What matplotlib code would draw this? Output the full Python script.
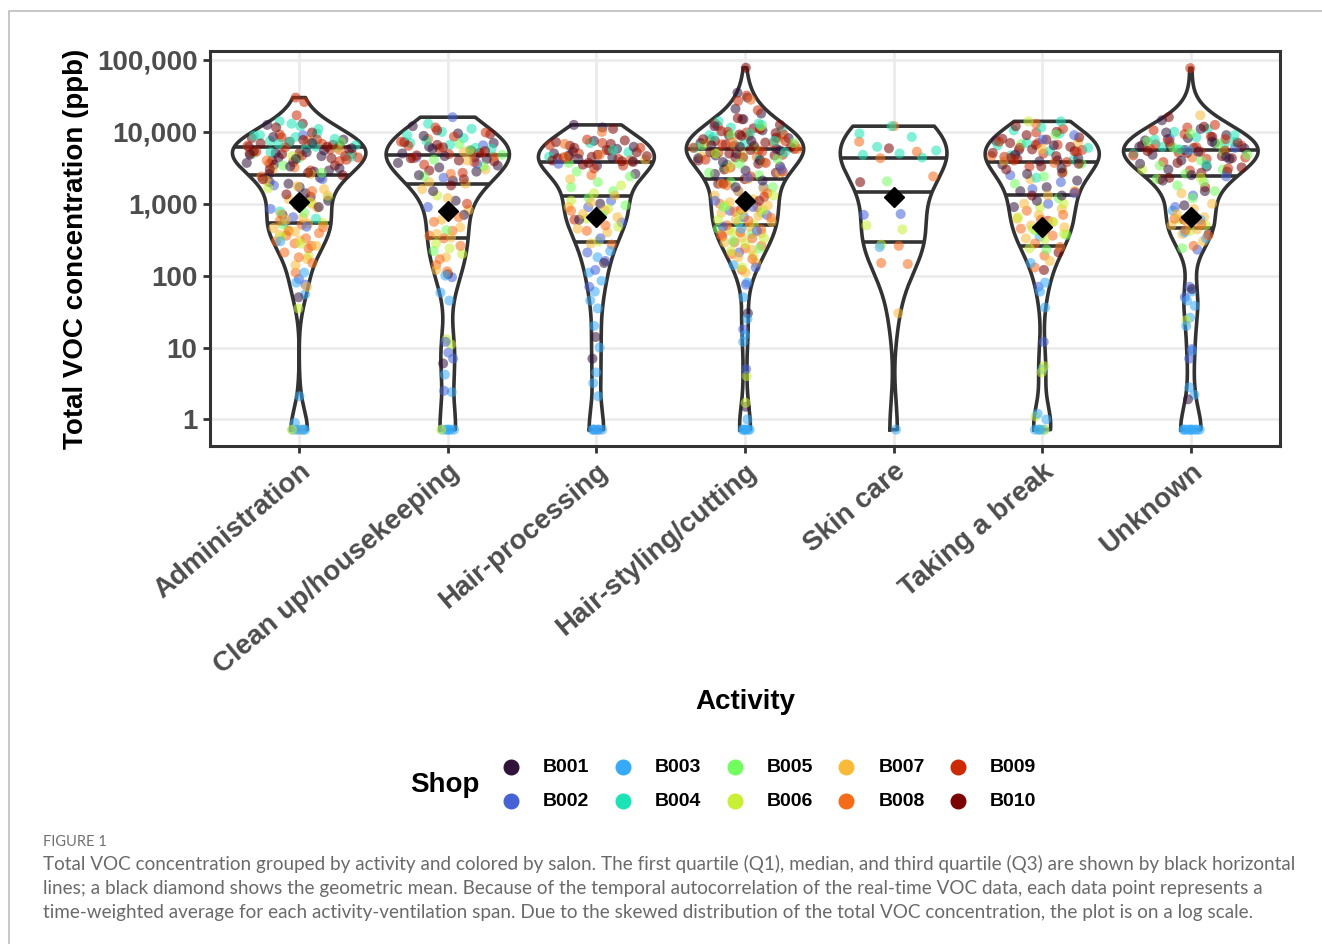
import numpy as np
import matplotlib
matplotlib.use("Agg")
import matplotlib.pyplot as plt
from matplotlib.lines import Line2D

# ---- data (ppb) ----
activities = ["Administration", "Clean up/housekeeping", "Hair-processing",
              "Hair-styling/cutting", "Skin care", "Taking a break", "Unknown"]
shops = ["B001", "B002", "B003", "B004", "B005",
         "B006", "B007", "B008", "B009", "B010"]
shop_colors = ["#30123B", "#4662D7", "#36AAF9", "#1AE4B6", "#72FE5E",
               "#C8EF34", "#FABA39", "#F66B19", "#CB2A04", "#7A0403"]

admin = {
    "B001": [12500, 7000, 8500, 6500, 4200, 4800, 5500, 4400, 5900, 5200, 2600, 2900, 3300,
             3700, 2800, 3500, 3100, 1700, 2000, 2300, 1900, 1100, 1400, 700, 900, 50,
             6200, 4600, 5100, 7800],
    "B002": [9000, 1800, 2200, 650, 850, 480, 560, 75, 90],
    "B003": [300, 110, 80, 55, 2.1, 0.9, 0.72, 0.72, 0.72, 0.72, 0.72, 0.72],
    "B004": [12000, 14000, 11000, 13000, 6500, 7000, 7500, 8000, 8500, 9000, 9500, 6800,
             4500, 5800, 780, 620, 7200, 8800, 6200, 5200],
    "B005": [7200, 4300, 5000, 2700, 3400, 1200, 750, 520, 6000],
    "B006": [4600, 1650, 1050, 430, 540, 280, 350, 190, 35, 0.72],
    "B007": [2600, 3000, 1600, 1750, 2100, 1000, 1150, 1300, 640, 720, 880, 410, 460, 530,
             600, 260, 310, 370, 170, 140, 70, 0.72],
    "B008": [4000, 5600, 3200, 2400, 1500, 420, 470, 510, 580, 260, 280, 300, 330, 360, 390,
             180, 210, 240, 110, 150, 7600],
    "B009": [30000, 26000, 17000, 6400, 7800, 9200, 4100, 4700, 5300, 5700, 6100, 4400,
             2900, 3600, 3900, 950, 5000, 6800, 8400, 4900],
    "B010": [13000, 11500, 6600, 7300, 8200, 9800, 4000, 4600, 5100, 5400, 6200, 4900,
             2500, 2700, 3000, 3400, 3800, 2200, 1250, 1350, 5700, 7700, 6900, 4300],
}
cleanup = {
    "B001": [12000, 9500, 8800, 4200, 4600, 5000, 5500, 6200, 7000, 2100, 2500, 2800, 3200,
             3700, 1100, 1500, 700, 105, 6, 4400, 5800, 3400],
    "B002": [16000, 4400, 6500, 2300, 900, 95, 12, 7, 8.5, 2.5, 3600],
    "B003": [100, 58, 45, 4.2, 2.4, 0.72, 0.72, 0.72, 0.72, 0.72, 0.72],
    "B004": [13000, 11000, 10000, 9000, 8200, 7600, 5800, 6600, 7000, 6000],
    "B005": [4100, 4800, 6800, 2400, 3300, 430, 220, 5600],
    "B006": [1300, 200, 240, 280, 11, 13, 0.72],
    "B007": [5300, 2000, 3000, 1200, 1600, 1900, 600, 820, 340, 380, 470, 180, 120, 4000],
    "B008": [8000, 4500, 2600, 560, 650, 330, 360, 420, 170, 260, 115, 140, 5000],
    "B009": [11500, 9800, 8600, 4300, 5100, 5900, 7300, 2700, 3500, 1000, 4900, 6400, 3800],
    "B010": [10500, 9300, 4000, 4700, 5400, 6100, 7200, 2200, 2900, 3900, 1800,
             4300, 5100, 6600],
}
hairproc = {
    "B001": [12500, 11500, 4700, 3900, 7500, 5000, 5800, 4200, 2600, 1000, 600, 150, 14, 7,
             4400, 5300, 6200, 3400],
    "B002": [3600, 1100, 900, 550, 330, 210, 160, 120, 70, 0.72, 0.72],
    "B003": [220, 180, 110, 85, 60, 45, 35, 20, 10, 4.5, 3.2, 2.1, 0.72, 0.72, 0.72, 0.72],
    "B004": [5200, 7000, 4500, 5600],
    "B005": [2800, 2400, 2000, 1700, 1500, 1200, 950, 700, 3700],
    "B006": [1800, 1400, 1100, 850, 620, 480, 300],
    "B007": [2200, 1300, 1050, 900, 800, 720, 650, 560, 450, 400, 280, 4100],
    "B008": [10000, 4500, 4000, 2500, 800, 500, 420, 270, 4800, 6800],
    "B009": [3400, 7800, 6500, 5500, 4600, 3800, 3100, 600, 4200, 5000, 6000, 7000, 4400],
    "B010": [11000, 3700, 7200, 6800, 6000, 5200, 4800, 4300, 3900, 3500,
             4600, 5600, 6400, 7600, 4500, 4000],
}
hairstyle = {
    "B001": [35000, 30000, 21000, 18000, 15000, 12000, 10500, 9000, 8200, 7500, 6500, 5800,
             5000, 4300, 4000, 3800, 3300, 2900, 2600, 2100, 1700, 30, 1.5,
             4700, 5500, 6200, 7000, 11000],
    "B002": [3500, 3000, 2300, 2000, 1700, 1500, 1100, 900, 800, 700, 650, 480, 420, 210,
             130, 75, 18, 5],
    "B003": [450, 140, 80, 50, 25, 15, 12, 1.0, 0.72, 0.72, 0.72, 0.72, 0.72, 0.72],
    "B004": [14000, 13000, 11500, 10500, 9500, 8500, 7500, 6500, 6000, 4200, 3200,
             5200, 7000, 9000, 12500],
    "B005": [9000, 7000, 6000, 5000, 4200, 3600, 2700, 2500, 2000, 1700, 1200, 900, 750,
             550, 450, 380, 300, 240, 4500, 6500],
    "B006": [12000, 3400, 1300, 1100, 950, 820, 700, 600, 520, 400, 330, 280, 220, 190, 130,
             4, 1.7, 5000],
    "B007": [8000, 5400, 4600, 3800, 3100, 2700, 2200, 1900, 1600, 1500, 1300, 1150, 1050,
             950, 850, 750, 680, 600, 560, 480, 430, 390, 340, 290, 230, 180, 150, 110, 7000],
    "B008": [28000, 7200, 5800, 4500, 1800, 1400, 1200, 1000, 900, 780, 640, 580, 500, 440,
             400, 370, 330, 290, 260, 240, 200, 170, 120, 6500],
    "B009": [32000, 27000, 20000, 15000, 13000, 11000, 10000, 9200, 8700, 7700, 7000, 6300,
             6000, 5500, 5100, 4800, 4400, 4100, 3700, 3200, 2800, 2400, 1900, 1250, 820, 350,
             5300, 6700, 7400, 9800, 12000],
    "B010": [78000, 15500, 12500, 11200, 10200, 9600, 8800, 7900, 7100, 6700, 6100, 5600,
             5200, 4700, 4400, 4000, 3600, 3000, 2700, 2200, 1900, 1100,
             5000, 5800, 6400, 7500, 8300, 9200],
}
skincare = {
    "B002": [700, 720],
    "B003": [250, 0.72],
    "B004": [12000, 9500, 8500, 6200, 5500, 5000, 4800, 4400],
    "B005": [2050],
    "B006": [500, 440, 270],
    "B007": [30],
    "B008": [12000, 7300, 5300, 4300, 2400, 260, 150, 145],
    "B010": [5900, 2000],
}
takebreak = {
    "B001": [7500, 6500, 4800, 4300, 3900, 3500, 3100, 2600, 2100, 1700, 1500, 1300, 1100, 900,
             4000, 5600],
    "B002": [9000, 7800, 2500, 2000, 1600, 1400, 1000, 70, 12],
    "B003": [350, 150, 80, 60, 36, 5, 1.2, 1.0, 0.72, 0.72, 0.72, 0.72],
    "B004": [14000, 11500, 10500, 9500, 7000, 6000, 5400, 4700, 4100, 2300, 6500],
    "B005": [9200, 6800, 3600, 2400, 1900, 1200, 420, 370, 230],
    "B006": [14000, 1000, 900, 650, 560, 450, 380, 320, 240, 5.5, 4.5, 1.1, 0.72, 0.72],
    "B007": [7200, 5800, 3900, 2800, 2200, 1500, 1300, 1000, 850, 700, 620, 560, 500, 470,
             400, 330, 160],
    "B008": [13000, 4600, 3700, 800, 700, 600, 450, 360, 280, 250, 190, 130],
    "B009": [11000, 9800, 7300, 6600, 6000, 5600, 5000, 4500, 3800, 3300, 1450, 580,
             4000, 5300, 7000],
    "B010": [12000, 10000, 9000, 8400, 7800, 7000, 6200, 5700, 5100, 4600, 4200, 3600, 3300,
             3000, 2700, 1300, 210, 120, 4400, 5400, 6600, 8000],
}
unknown = {
    "B001": [14500, 11000, 9800, 9000, 8200, 7600, 7000, 6500, 5900, 5300, 4800, 4500, 4000,
             3600, 3300, 3000, 2800, 2500, 2100, 1500, 950, 380, 65, 1.9,
             4200, 5600, 6200, 7300],
    "B002": [8000, 2400, 1300, 900, 230, 70, 50, 9.5, 7, 6000],
    "B003": [5500, 800, 600, 400, 330, 60, 45, 38, 26, 20, 9, 2.8, 2.2,
             0.72, 0.72, 0.72, 0.72, 0.72, 0.72, 0.72, 0.72, 0.72, 0.72],
    "B004": [11000, 10000, 9000, 8400, 7800, 6800, 5700, 5000, 3500, 6200, 7200],
    "B005": [9500, 7400, 6800, 6100, 4800, 4000, 3400, 3000, 2600, 2200, 2000, 1800, 1500,
             1200, 240, 5300, 5600],
    "B006": [3000, 2300, 600, 500, 420, 24],
    "B007": [17000, 1400, 1000, 850, 720, 650, 560, 500, 440, 380, 300],
    "B008": [4400, 620, 520, 430, 360, 260],
    "B009": [77000, 12500, 11500, 10500, 8600, 7300, 6400, 6100, 5800, 5500, 5100, 4700, 4200,
             3800, 3100, 2900, 2200, 1700, 600, 4400, 5300, 6700, 7900, 9300],
    "B010": [16000, 11800, 7900, 7100, 6000, 5400, 4600, 3700, 3200, 2700, 2300,
             4300, 5100, 6500, 8500],
}
by_activity = [admin, cleanup, hairproc, hairstyle, skincare, takebreak, unknown]

# summary statistics shown on the figure
q1_ppb = [535, 337, 290, 510, 297, 262, 465]
median_ppb = [2500, 1870, 1300, 2200, 1480, 1320, 2400]
q3_ppb = [6100, 4700, 3850, 5800, 4380, 3780, 5600]
gmean_ppb = [1050, 800, 660, 1090, 1260, 470, 645]

ytick_vals = [1, 10, 100, 1000, 10000, 100000]
ytick_labels = ["1", "10", "100", "1,000", "10,000", "100,000"]

caption_head = "FIGURE 1"
caption_lines = [
    "Total VOC concentration grouped by activity and colored by salon. The first quartile (Q1), "
    "median, and third quartile (Q3) are shown by black horizontal",
    "lines; a black diamond shows the geometric mean. Because of the temporal autocorrelation "
    "of the real-time VOC data, each data point represents a",
    "time-weighted average for each activity-ventilation span. Due to the skewed distribution "
    "of the total VOC concentration, the plot is on a log scale.",
]

# ---- style ----
W, H = 1322, 944
half_width = [0.449, 0.415, 0.39, 0.395, 0.359, 0.384, 0.453]
dark = "#333333"
tick_grey = "#4D4D4D"
plt.rcParams["font.family"] = ["Liberation Sans", "DejaVu Sans"]

fig = plt.figure(figsize=(W / 100, H / 100), dpi=100)
ax = fig.add_axes([210 / W, 1 - 446 / H, 1070 / W, 395 / H])


def fx(x):
    return x / W


def fy(y):
    return 1 - y / H


def kde(logv, grid):
    n = len(logv)
    sd = np.std(logv, ddof=1)
    iqr = np.subtract(*np.percentile(logv, [75, 25]))
    bw = 0.9 * min(sd, iqr / 1.34) * n ** -0.2
    z = (grid[:, None] - logv[None, :]) / bw
    return np.exp(-0.5 * z ** 2).sum(axis=1) / (n * bw * np.sqrt(2 * np.pi))


golden = 0.6180339887
for i, data in enumerate(by_activity):
    xpos = i + 1
    vals, cols = [], []
    for s, c in zip(shops, shop_colors):
        for v in data.get(s, []):
            vals.append(v)
            cols.append(c)
    vals = np.array(vals, dtype=float)
    logv = np.log10(vals)
    grid = np.linspace(logv.min(), logv.max(), 600)
    dens = kde(logv, grid)
    hw = dens / dens.max() * half_width[i]

    # violin body (white) and outline
    ax.fill_betweenx(10 ** grid, xpos - hw, xpos + hw, color="white", lw=0, zorder=2)
    ox = np.r_[xpos - hw, (xpos + hw)[::-1], xpos - hw[0]]
    oy = 10 ** np.r_[grid, grid[::-1], grid[0]]
    ax.plot(ox, oy, color=dark, lw=2.6, zorder=3, solid_joinstyle="round")

    # quartile lines
    for q in (q1_ppb[i], median_ppb[i], q3_ppb[i]):
        w = np.interp(np.log10(q), grid, hw)
        ax.plot([xpos - w, xpos + w], [q, q], color=dark, lw=2.6, zorder=3,
                solid_capstyle="butt")

    # sina-style points: spread inside the violin width at each level
    n = len(vals)
    order = np.argsort((np.arange(n) * 7919) % n)
    u = ((np.arange(n) * golden) % 1.0) * 2 - 1
    wpt = np.interp(logv, grid, hw)
    px = xpos + u * wpt * 0.9
    ax.scatter(px[order], vals[order], s=52, c=np.array(cols)[order], alpha=0.55,
               linewidths=0, zorder=4)

    ax.plot(xpos, gmean_ppb[i], marker="D", ms=10.5, color="black", zorder=6)

ax.set_yscale("log")
ax.set_ylim(10 ** -0.37, 10 ** 5.125)
ax.set_xlim(0.4, 7.6)
ax.set_yticks(ytick_vals)
ax.set_yticklabels(ytick_labels)
ax.yaxis.set_minor_locator(matplotlib.ticker.NullLocator())
ax.set_xticks(range(1, len(activities) + 1))
ax.set_xticklabels(activities, rotation=40, ha="right", va="top", rotation_mode="anchor")
ax.grid(True, color="#EBEBEB", lw=1.9, zorder=0)
ax.set_axisbelow(True)
for sp in ax.spines.values():
    sp.set_color(dark)
    sp.set_linewidth(2.2)
ax.tick_params(axis="both", length=5, width=2, color=dark, labelcolor=tick_grey,
               labelsize=20, pad=4)
for lab in ax.get_xticklabels() + ax.get_yticklabels():
    lab.set_fontweight("bold")

ax.set_xlabel("Activity", fontsize=20, fontweight="bold", color="black")
ax.xaxis.set_label_coords(0.5, -(689 - 446) / 395, transform=ax.transAxes)
ax.set_ylabel("Total VOC concentration (ppb)", fontsize=20, fontweight="bold", color="black")
ax.yaxis.set_label_coords(-(210 - 89) / 1070, 0.5, transform=ax.transAxes)

# legend drawn by hand: "Shop" + 5 columns x 2 rows
fig.text(fx(410), fy(785), "Shop", fontsize=20, fontweight="bold", va="center", ha="left")
for k, (s, c) in enumerate(zip(shops, shop_colors)):
    col, row = k // 2, k % 2
    mx = 511 + col * 111.8
    my = 767 + row * 34
    fig.add_artist(Line2D([fx(mx)], [fy(my)], transform=fig.transFigure, marker="o",
                          ms=10.5, color=c, lw=0))
    fig.text(fx(mx + 32), fy(my + 1), s, fontsize=14, fontweight="bold", va="center", ha="left")

# caption
fig.text(fx(43), fy(846), caption_head, fontsize=10.5, color="#707070", family="Lato",
         va="baseline")
cap = [fig.text(fx(43), fy(870 + 24 * j), t, fontsize=12.5, color="#6a6a6a", family="Lato",
                va="baseline") for j, t in enumerate(caption_lines)]
renderer = fig.canvas.get_renderer()
wline = cap[0].get_window_extent(renderer).width
for t in cap:
    t.set_fontsize(12.5 * 1252 / wline)

# thin frame of the figure page
fig.add_artist(Line2D([fx(9), fx(9), fx(W)], [fy(H), fy(11), fy(11)],
                      transform=fig.transFigure, color="#BDBDBD", lw=1.2))

fig.savefig("out.png", dpi=100)
